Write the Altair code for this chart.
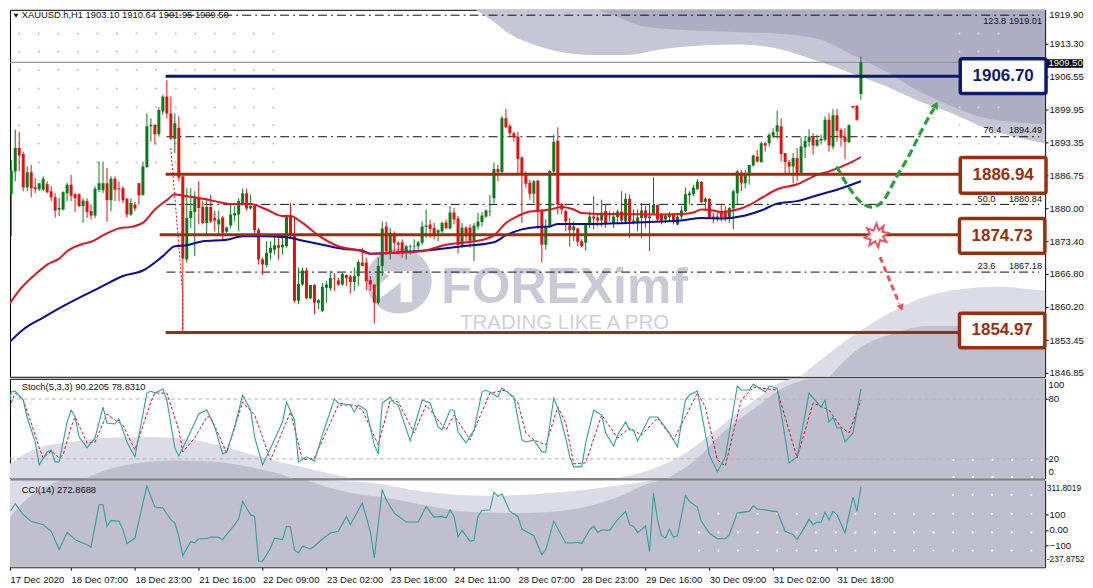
import altair as alt
import pandas as pd

direction = ("GGGRRGRRGG" "RRRGGGRRRG" "RRGGGRGRRR" "RGRRGGGRGG" "RRGRRGGGRR" "GRRGRGGGGG"
             "RGRRRGGGRG" "GRRGGRGRGG" "GGRRGRRGGR" "RRRGGRGRRR" "GGGGGGRRGG" "RGRRGRRGGG"
             "GGGRGRRRRR" "RRGRRGGGRR" "RRGRRGGRRG" "RRGGRGRRGG" "RGGRRGGRGG" "GGGGRGRRGR"
             "RGGGRGGGRG" "RGGGRRRGRG" "GGRGGGRGRR" "RGRRG")

body_hi = [1883.1,1887.7,1892.2,1892.2,1891.0,1887.3,1887.3,1884.3,1885.1,1886.0,
 1884.9,1883.5,1882.3,1880.1,1883.3,1884.8,1884.8,1882.9,1882.9,1881.6,
 1881.5,1879.5,1884.0,1885.1,1885.1,1885.1,1886.0,1886.0,1884.1,1884.1,
 1882.0,1881.1,1880.8,1885.1,1888.5,1896.6,1896.9,1896.9,1899.9,1902.6,
 1902.6,1899.2,1897.2,1896.3,1886.5,1878.1,1879.5,1882.1,1882.1,1880.3,
 1880.3,1880.3,1878.1,1877.8,1878.2,1876.2,1878.8,1879.1,1881.5,1883.1,
 1883.1,1880.5,1880.5,1875.7,1869.7,1871.1,1872.1,1872.6,1872.6,1872.7,
 1878.5,1878.5,1874.4,1864.8,1867.5,1867.5,1864.6,1864.6,1861.5,1864.2,
 1864.7,1866.0,1866.0,1865.5,1866.8,1866.6,1866.3,1866.4,1869.2,1869.1,
 1869.1,1865.6,1864.7,1868.4,1876.0,1876.4,1875.1,1875.0,1873.1,1873.2,
 1872.4,1872.4,1872.4,1873.2,1876.4,1876.6,1876.8,1876.1,1875.6,1877.1,
 1877.2,1879.2,1879.2,1878.0,1876.2,1876.2,1876.2,1876.6,1877.4,1878.6,
 1879.6,1879.4,1888.0,1888.0,1898.2,1898.2,1896.7,1895.2,1894.5,1890.3,
 1887.0,1885.2,1885.5,1885.6,1879.5,1876.1,1887.6,1893.5,1893.7,1880.9,
 1879.5,1876.6,1876.4,1876.0,1873.4,1876.9,1878.4,1878.4,1878.2,1879.2,
 1879.5,1879.1,1878.4,1879.4,1879.4,1882.0,1882.0,1877.6,1878.2,1879.6,
 1879.6,1878.4,1880.7,1880.7,1878.9,1878.6,1878.8,1878.8,1878.4,1879.6,
 1882.9,1883.1,1884.2,1885.4,1885.4,1882.0,1882.0,1878.4,1878.4,1879.5,
 1879.5,1880.1,1883.5,1887.5,1887.2,1886.8,1888.8,1890.7,1890.5,1893.2,
 1893.2,1894.9,1895.4,1896.8,1896.6,1891.2,1889.4,1890.2,1890.2,1892.5,
 1893.7,1894.5,1894.5,1893.9,1894.1,1897.9,1897.9,1898.8,1898.8,1895.9,
 1894.5,1896.8,1900.7,1900.7,1909.5]

body_lo = [1876.4,1882.9,1887.5,1890.7,1884.3,1884.3,1884.1,1883.9,1883.9,1883.8,
 1883.3,1882.3,1879.6,1879.8,1879.8,1883.1,1882.6,1882.1,1880.5,1880.5,
 1879.3,1878.6,1878.6,1883.8,1883.7,1881.7,1881.7,1883.8,1883.9,1881.7,
 1878.8,1878.8,1880.0,1882.7,1882.7,1888.4,1896.6,1895.0,1895.0,1899.6,
 1899.2,1894.1,1894.1,1886.2,1869.9,1869.7,1878.1,1879.3,1880.1,1877.1,
 1877.1,1877.4,1877.6,1876.8,1875.1,1875.3,1876.6,1878.6,1878.8,1881.1,
 1880.0,1880.0,1875.6,1869.7,1868.7,1868.6,1871.1,1871.7,1872.1,1872.2,
 1872.4,1874.4,1861.4,1861.4,1864.7,1861.9,1861.9,1861.0,1861.0,1859.3,
 1864.0,1863.9,1865.9,1864.7,1864.7,1866.0,1865.2,1865.2,1866.4,1868.4,
 1865.4,1864.7,1861.0,1861.0,1868.4,1871.4,1871.1,1873.1,1872.7,1871.4,
 1871.4,1872.3,1872.3,1872.4,1873.1,1876.3,1875.9,1874.8,1875.1,1875.4,
 1876.1,1876.0,1877.8,1872.7,1872.7,1874.4,1873.5,1873.5,1876.4,1877.3,
 1878.4,1879.3,1882.1,1887.4,1887.4,1896.4,1895.2,1894.4,1890.0,1887.0,
 1885.0,1883.0,1883.0,1879.6,1872.7,1872.7,1876.6,1887.5,1880.8,1879.8,
 1877.4,1875.6,1875.6,1873.3,1872.4,1873.1,1876.8,1878.0,1877.6,1877.6,
 1876.9,1878.9,1877.1,1878.3,1877.6,1877.4,1877.4,1877.1,1877.1,1878.1,
 1878.1,1878.1,1879.0,1877.8,1877.6,1877.8,1878.3,1877.4,1876.8,1878.4,
 1879.5,1882.7,1882.9,1883.9,1881.3,1881.3,1878.2,1878.1,1878.1,1878.2,
 1878.2,1878.1,1880.0,1883.1,1885.1,1885.1,1886.7,1888.7,1889.5,1889.4,
 1892.7,1893.2,1894.7,1895.5,1891.0,1889.4,1888.5,1888.5,1887.2,1887.2,
 1892.3,1893.5,1892.7,1892.7,1893.7,1893.9,1892.7,1892.5,1895.7,1894.3,
 1893.5,1893.4,1900.4,1897.9,1903.1]

highs = [1886.8,1889.8,1895.9,1895.5,1891.5,1888.5,1888.8,1886.2,1885.1,1886.5,
 1885.5,1884.5,1883.1,1882.1,1883.5,1885.2,1886.8,1883.1,1883.1,1882.1,
 1882.1,1880.8,1884.5,1889.5,1889.5,1888.2,1886.5,1886.5,1885.5,1884.5,
 1882.1,1882.1,1881.3,1885.1,1889.5,1899.2,1898.2,1896.9,1900.4,1902.9,
 1905.9,1902.6,1899.2,1898.6,1886.5,1884.1,1884.1,1883.5,1885.5,1881.5,
 1882.1,1882.8,1879.5,1879.6,1878.5,1876.4,1880.8,1880.5,1882.1,1884.0,
 1884.0,1882.8,1880.8,1876.1,1870.1,1873.4,1873.4,1874.4,1874.1,1874.8,
 1878.8,1881.1,1878.1,1868.1,1868.1,1868.1,1864.6,1864.7,1861.7,1865.0,
 1865.4,1867.4,1867.0,1866.0,1867.0,1866.7,1866.7,1868.1,1869.7,1872.1,
 1870.1,1866.4,1864.7,1870.1,1877.4,1877.3,1876.1,1875.4,1873.4,1873.8,
 1872.7,1872.7,1873.8,1873.5,1877.4,1879.8,1877.8,1877.1,1875.8,1877.4,
 1877.8,1880.5,1880.1,1878.5,1877.1,1876.4,1876.8,1877.1,1879.1,1879.3,
 1879.8,1882.7,1889.3,1888.8,1898.7,1900.1,1897.0,1895.5,1895.5,1890.5,
 1887.5,1885.8,1885.8,1885.8,1879.8,1877.8,1887.8,1894.9,1896.4,1881.1,
 1879.8,1878.1,1877.4,1876.1,1873.8,1877.1,1879.4,1882.5,1879.1,1881.8,
 1880.8,1879.5,1879.4,1879.8,1883.5,1883.1,1882.8,1879.8,1879.8,1881.1,
 1880.5,1881.1,1886.3,1880.8,1879.1,1878.9,1879.3,1879.1,1879.1,1880.5,
 1884.3,1883.5,1884.8,1886.0,1885.5,1882.3,1882.1,1879.1,1879.1,1880.8,
 1880.5,1880.3,1883.8,1887.8,1887.8,1887.8,1888.8,1890.9,1891.9,1893.5,
 1893.5,1895.2,1896.2,1899.7,1898.2,1891.2,1889.8,1891.2,1892.2,1894.3,
 1894.5,1896.0,1895.2,1894.9,1894.9,1898.6,1899.2,1900.1,1900.1,1896.2,
 1896.2,1897.0,1900.7,1900.9,1910.64]

lows = [1876.4,1874.4,1885.5,1887.5,1883.5,1883.5,1882.3,1883.1,1883.5,1883.5,
 1883.1,1881.5,1878.2,1878.5,1879.6,1881.5,1881.5,1879.3,1880.3,1877.1,
 1878.1,1877.8,1878.1,1883.3,1883.1,1877.3,1879.5,1881.5,1881.5,1881.1,
 1878.2,1878.5,1879.5,1880.8,1882.7,1888.2,1893.5,1892.9,1894.5,1898.9,
 1898.2,1893.9,1891.2,1885.5,1855.0,1869.1,1876.1,1870.4,1876.8,1876.8,
 1874.4,1877.1,1875.4,1874.8,1873.7,1875.1,1876.1,1877.4,1875.4,1880.8,
 1879.6,1879.8,1874.8,1868.7,1866.6,1868.1,1869.7,1870.7,1869.7,1870.7,
 1872.1,1874.1,1861.0,1860.7,1864.4,1861.7,1861.7,1858.7,1859.7,1859.2,
 1861.0,1863.4,1863.4,1864.4,1864.4,1864.4,1862.8,1863.4,1864.4,1868.4,
 1863.5,1863.4,1856.8,1860.7,1866.4,1870.7,1869.7,1871.4,1870.7,1870.1,
 1869.7,1870.7,1871.4,1871.7,1872.7,1874.1,1874.1,1873.8,1873.4,1875.1,
 1875.8,1875.8,1876.8,1870.9,1872.1,1873.4,1872.1,1869.4,1875.8,1876.4,
 1878.1,1878.4,1881.1,1885.5,1887.2,1896.2,1894.5,1893.5,1887.2,1877.1,
 1884.2,1881.8,1881.1,1875.8,1869.1,1871.7,1876.1,1887.2,1878.8,1878.8,
 1875.4,1872.3,1873.4,1872.4,1872.2,1871.5,1876.1,1875.8,1876.4,1876.4,
 1876.1,1877.4,1876.1,1876.8,1877.1,1876.8,1874.1,1876.8,1875.4,1874.1,
 1876.1,1871.4,1878.8,1877.4,1876.8,1877.1,1877.4,1876.8,1876.6,1877.8,
 1879.3,1880.8,1882.5,1883.8,1881.1,1879.5,1878.1,1877.1,1877.4,1877.4,
 1877.4,1877.1,1875.8,1880.8,1883.5,1884.1,1884.8,1888.5,1889.3,1889.2,
 1891.5,1892.5,1894.2,1894.1,1889.5,1887.2,1887.2,1885.1,1885.5,1887.2,
 1890.2,1892.5,1890.9,1892.5,1892.9,1893.5,1891.5,1891.9,1893.5,1892.5,
 1890.0,1893.2,1900.2,1897.7,1901.95]

ma_red_i = [0,3,7,10,13,15,19,21,24,28,31,34,37,40,42,44,47,52,56,61,65,69,71,74,78,83,88,91,97,104,110,114,118,122,125,128,131,134,136,139,142,144,149,155,164,169,172,174,177,179,183,186,189,193,198,203,206,209,212,214]
ma_red = [1860.1,1863.5,1866.7,1868.7,1869.9,1871.4,1872.9,1873.3,1874.6,1876.0,1876.3,1877.1,1879.8,1881.7,1882.9,1882.6,1882.3,1881.5,1880.9,1880.9,1879.8,1878.5,1878.5,1877.1,1874.6,1872.4,1871.6,1870.9,1871.1,1871.4,1872.7,1873.1,1873.5,1874.6,1877.1,1878.5,1879.4,1879.6,1879.8,1880.3,1879.8,1879.1,1878.9,1878.9,1878.8,1878.9,1879.2,1879.8,1879.6,1879.3,1879.8,1880.7,1882.1,1883.9,1884.9,1886.8,1887.5,1888.4,1889.5,1890.4]
ma_blue_i = [0,4,9,14,20,24,29,34,39,42,45,49,55,59,64,70,73,79,84,89,91,97,104,114,122,125,129,133,136,138,147,155,164,169,174,179,185,189,193,198,204,208,214]
ma_blue = [1852.6,1855.6,1858.0,1860.3,1862.8,1864.4,1866.4,1867.5,1870.4,1872.4,1872.6,1873.4,1873.7,1874.4,1874.4,1874.2,1873.7,1872.7,1871.9,1871.5,1870.9,1871.1,1871.5,1872.4,1873.2,1874.6,1875.8,1876.3,1876.4,1876.9,1876.9,1877.1,1877.4,1877.6,1878.1,1878.0,1878.6,1879.6,1881.0,1881.5,1882.9,1883.8,1885.5]

stoch_i = [0,1,2,4,5,7,8,10,11,12,13,15,16,17,18,20,22,24,25,27,28,30,32,35,36,37,39,40,42,43,45,48,50,52,54,55,57,59,61,62,64,66,69,70,72,73,75,77,79,82,83,86,87,88,90,92,93,94,96,97,98,101,104,106,108,109,111,112,113,115,117,119,120,123,124,127,129,130,132,134,135,137,138,140,141,142,144,145,147,149,150,152,153,155,156,157,158,161,163,166,168,170,171,173,176,178,180,183,184,186,187,190,191,193,196,198,201,204,205,206,207,208,209,210,212,214]
stoch_main = [67,87,88,79,61,37,14,27,29,17,17,57,69,62,42,31,41,72,56,55,60,37,22,86,88,86,90,79,31,23,39,65,69,52,25,27,52,84,69,42,14,31,57,77,59,17,22,18,44,80,76,74,67,74,69,34,25,76,82,76,74,38,79,76,52,49,69,69,47,36,49,87,89,82,91,82,39,37,39,27,27,81,71,41,22,12,12,36,69,64,46,33,44,57,49,49,38,62,62,46,32,79,84,88,24,7,22,93,89,89,95,87,93,91,16,22,86,72,79,57,62,51,51,37,46,90.2]
signal_i = [0,2,4,6,8,9,11,13,14,16,17,20,22,25,27,29,32,36,37,40,43,44,47,50,51,55,59,62,66,71,74,77,83,87,89,93,96,98,102,105,110,112,116,121,125,128,130,132,135,138,140,142,145,149,153,156,159,163,167,173,175,178,180,184,187,193,198,202,206,209,211,214]
signal = [67,86,79,56,31,21,28,21,24,52,62,36,37,65,59,54,29,77,86,86,49,27,41,62,62,26,77,64,19,67,19,21,74,74,69,34,79,77,46,74,49,64,39,86,89,76,46,39,34,72,56,15,16,64,41,51,44,61,39,86,72,19,13,79,92,89,21,76,69,52,46,78.8]

cci_i = [0,1,2,4,6,9,11,13,15,17,18,20,21,23,24,25,26,28,29,30,32,35,37,39,41,42,43,44,46,47,48,50,51,53,54,57,58,59,61,62,63,64,66,67,69,70,71,72,73,74,76,77,79,81,83,85,86,89,91,92,94,95,97,100,103,105,107,109,110,111,112,113,114,116,117,118,119,121,122,123,124,126,128,129,132,134,135,137,140,142,143,144,146,147,148,149,151,153,155,156,157,158,159,160,161,162,163,164,165,166,167,168,170,171,173,174,176,178,180,181,183,186,187,188,190,192,193,195,197,198,200,201,202,203,204,205,206,207,208,210,212,213,214]
cci = [124,128,166,97,55,34,-8,-124,-15,-61,-72,-93,-109,160,160,23,61,55,2,-86,-51,280,145,139,65,44,-40,-162,-72,-82,-55,-55,-44,-46,-61,34,69,181,97,86,-198,-198,-114,-51,-61,23,19,-128,-145,-103,-120,-103,-57,-19,-8,86,34,171,-8,-177,255,192,107,51,51,149,82,86,76,128,86,-44,-2,-72,-65,86,124,128,240,213,229,118,86,6,-36,-156,-124,55,-82,-82,-78,-86,2,23,-15,2,-2,65,118,34,23,-15,2,27,-135,234,65,-36,-51,6,-46,-36,217,181,145,55,-19,-55,-55,-29,107,118,154,133,128,118,118,-8,-29,-61,23,69,34,51,48,114,65,118,97,-19,208,118,272.87]

tick_bars = [0.68,16,32,48,64,80,96,112,128,144,160,176,192,208]
tick_labels = ["17 Dec 2020","18 Dec 07:00","18 Dec 23:00","21 Dec 16:00","22 Dec 09:00","23 Dec 02:00","23 Dec 18:00","24 Dec 11:00","28 Dec 07:00","28 Dec 23:00","29 Dec 16:00","30 Dec 09:00","31 Dec 02:00","31 Dec 18:00"]
price_ticks = [1913.30,1906.55,1899.95,1893.35,1886.75,1880.00,1873.40,1866.80,1860.20,1853.45,1846.85]

levels = [1906.70,1886.94,1874.73,1854.97]
fibs = [1919.01,1894.49,1880.84,1867.18]

XMIN, XMAX = 0.68, 260.17
FONT = "Liberation Sans"
INK = "#111111"
NAVY, BROWN = "#0c1a72", "#97300f"
UP, DOWN = "#0b7a1b", "#e21212"
TEAL = "#2f9f9f"
LIGHT, DARK = "#c6c6d6", "#adadc4"
S_LIGHT, S_DARK = "#dcdce6", "#bfbfce"

main_dom = [1846.06, 1920.1]
sto_dom = [0.33, 100.33]
cci_dom = [-235.8, 313.6]


def panel(y_dom, y_axis, x_axis=None):
    x = alt.X("i:Q", scale=alt.Scale(domain=[XMIN, XMAX], nice=False, zero=False), axis=x_axis, title=None)
    y = alt.Y("p:Q", scale=alt.Scale(domain=y_dom, nice=False, zero=False), axis=y_axis, title=None)
    return x, y


def area(xy, xs, ys, base, color):
    df = pd.DataFrame({"i": xs, "p": ys, "b": base})
    return alt.Chart(df).mark_area(color=color, interpolate="monotone", clip=True, opacity=1).encode(
        x=xy[0], y=xy[1], y2=alt.Y2("b:Q"))


def line(xy, xs, ys, color, width=1.0, dash=None, interp="linear", clip=True):
    df = pd.DataFrame({"i": xs, "p": ys})
    kw = {"strokeDash": dash} if dash else {}
    return alt.Chart(df).mark_line(color=color, strokeWidth=width, interpolate=interp, clip=clip, **kw).encode(
        x=xy[0], y=xy[1], order=alt.Order("ord:Q")).transform_window(ord="row_number()")


def hline(xy, x0, x1, p, color, width=1.0, dash=None):
    df = pd.DataFrame({"i": [x0], "i2": [x1], "p": [p]})
    kw = {"strokeDash": dash} if dash else {}
    return alt.Chart(df).mark_rule(color=color, strokeWidth=width, **kw).encode(
        x=xy[0], x2=alt.X2("i2:Q"), y=xy[1])


def text(xy, i, p, s, size=9.5, color=INK, align="left", weight="normal", baseline="middle", font=FONT):
    df = pd.DataFrame({"i": [i], "p": [p], "t": [s]})
    return alt.Chart(df).mark_text(fontSize=size, color=color, align=align, fontWeight=weight,
                                   baseline=baseline, font=font).encode(x=xy[0], y=xy[1], text="t:N")


def dots(xy, xs, ys, color, size=5):
    df = pd.DataFrame([(a, b) for a in xs for b in ys], columns=["i", "p"])
    return alt.Chart(df).mark_point(shape="circle", filled=True, color=color, size=size, opacity=1, clip=True).encode(
        x=xy[0], y=xy[1])


def box(xy, x0, x1, p0, p1, label, color):
    df = pd.DataFrame({"i": [x0], "i2": [x1], "p": [p0], "p2": [p1]})
    r = alt.Chart(df).mark_rect(fill="white", stroke=color, strokeWidth=3.5, cornerRadius=2).encode(
        x=xy[0], x2=alt.X2("i2:Q"), y=xy[1], y2=alt.Y2("p2:Q"))
    t = text(xy, (x0 + x1) / 2, (p0 + p1) / 2, label, size=17, color=color, align="center", weight="bold")
    return r + t


# ---------- main panel
main_axis = alt.Axis(values=price_ticks, format=".2f", orient="right", grid=False, domain=False, tickSize=3,
                     tickColor=INK, labelFont=FONT, labelFontSize=9.5, labelColor=INK, labelPadding=1, labelOverlap=False)
M = panel(main_dom, main_axis)
top = main_dom[1]
bot = main_dom[0]

light_top_i = [117.4,121.9,126.2,131.9,138.7,146.9,155.4,163.7,173.7,182.9,192.9,203.7,211.9,220.4,228.7,236.9,245.4,260.2]
light_top_p = [1920.1,1917.7,1915.1,1913.1,1911.6,1911.0,1911.0,1912.1,1912.9,1913.1,1912.3,1909.6,1907.2,1904.6,1901.6,1899.2,1896.2,1893.1]
dark_top_i = [148.2,152.9,158.7,167.9,178.7,192.9,203.7,211.9,220.4,228.7,236.9,245.4,260.2]
dark_top_p = [1920.1,1918.7,1916.9,1916.1,1915.7,1915.3,1914.1,1911.0,1907.6,1903.6,1900.6,1898.2,1897.0]
light_bot_i = [198.7,213.7,222,230.5,238.7,248,260.2]
light_bot_p = [1846.06,1855.3,1859.3,1862.3,1863.7,1864.2,1863.4]
dark_bot_i = [206.2,213.7,222,230.5,238.7,248,260.2]
dark_bot_p = [1846.06,1851.9,1854.7,1856.3,1856.3,1856.7,1856.3]

dot_i = [3 + 4.9 * k for k in range(14)]
dot_p = [1915.3,1911.65,1908.0,1904.2,1900.4,1896.8,1893.1,1889.3]
dot2_i = [238.7,243.5,248.5]
dot2_p = [1915.3,1911.65,1900.4,1896.8,1893.1]

logo_df = pd.DataFrame({"i": [98.2], "p": [1865.4]})
logo = alt.Chart(logo_df).mark_point(shape="circle", filled=True, size=4300, color="#c9c9d7", opacity=1).encode(x=M[0], y=M[1])
arrow_path = "M-.55,-.3 L.4,-.3 L.4,.65 L.05,.65 L.05,.05 L-.6,.55 L-.85,.3 L-.3,-.15 Z"
logo2 = alt.Chart(logo_df).mark_point(shape=arrow_path, filled=True, size=4300, color="white", opacity=1).encode(x=M[0], y=M[1])

wm1 = text(M, 139.7, 1861.0, "FOREXimf", size=50, color="#c9c9d7", align="center", weight="bold", baseline="alphabetic")
wm2 = text(M, 139.7, 1855.6, "TRADING LIKE A PRO", size=20.5, color="#cfcfdb", align="center", baseline="alphabetic")

cd = pd.DataFrame({"i": range(len(highs)), "hi": highs, "lo": lows, "top": body_hi, "bottom": body_lo,
                   "col": [UP if d == "G" else DOWN for d in direction]})
wick = alt.Chart(cd).mark_rule(strokeWidth=1, clip=True).encode(
    x=M[0], y=alt.Y("hi:Q", scale=alt.Scale(domain=main_dom, nice=False, zero=False), axis=main_axis, title=None),
    y2=alt.Y2("lo:Q"), color=alt.Color("col:N", scale=None))
body = alt.Chart(cd).mark_rule(strokeWidth=3, clip=True).encode(
    x=M[0], y=alt.Y("top:Q", scale=alt.Scale(domain=main_dom, nice=False, zero=False), axis=main_axis, title=None),
    y2=alt.Y2("bottom:Q"), color=alt.Color("col:N", scale=None))

star = alt.Chart(pd.DataFrame({"i": [217.9], "p": [1874.6]})).mark_point(
    shape="M0,-1 L.2,-.45 L.6,-.8 L.5,-.3 L1,-.2 L.55,.1 L.85,.55 L.3,.4 L.15,1 L-.1,.5 L-.6,.85 L-.5,.35 L-1,.2 L-.55,-.1 L-.8,-.6 L-.25,-.4 Z",
    filled=True, fill="white", stroke="#f0505f", strokeWidth=2, size=560, opacity=1).encode(x=M[0], y=M[1])

green_i = [207.9,210.8,213.7,216.6,219.5,222.8,226.2,229.5,232.3]
green_p = [1888.5,1884.5,1881.5,1880.3,1881.5,1886.2,1890.9,1896.2,1900.2]
red_i = [218.8,223.6]
red_p = [1870.2,1860.8]
head_g = alt.Chart(pd.DataFrame({"i": [232.8], "p": [1900.9]})).mark_point(
    shape="triangle-up", filled=True, color="#2a9d3c", size=70, angle=27, opacity=1).encode(x=M[0], y=M[1])
head_r = alt.Chart(pd.DataFrame({"i": [224.1], "p": [1860.0]})).mark_point(
    shape="triangle-down", filled=True, color="#f0505a", size=60, angle=340, opacity=1).encode(x=M[0], y=M[1])

FDASH = [9, 4, 2, 4]
main_layers = [
    area(M, light_top_i, light_top_p, top, LIGHT),
    area(M, dark_top_i, dark_top_p, top, DARK),
    area(M, light_bot_i, light_bot_p, bot, S_LIGHT),
    area(M, dark_bot_i, dark_bot_p, bot, S_DARK),
    dots(M, dot_i, dot_p, "#c4c4c4"),
    dots(M, dot2_i, dot2_p, "#d2d2da"),
    logo, logo2, wm1, wm2,
]
main_layers += [hline(M, 39.9, 258.7, v, "#111111", 1, FDASH) for v in fibs]
main_layers += [
    hline(M, XMIN, XMAX, 1909.50, "#8c9aa2", 1.2),
    line(M, [41, 44, 44], [1892.2, 1862.7, 1855.0], DOWN, 1, [2, 2]),
    wick, body,
    line(M, ma_blue_i, ma_blue, "#0a0aa0", 2, None, "monotone"),
    line(M, ma_red_i, ma_red, "#e01520", 2, None, "monotone"),
    hline(M, 39.7, 238.7, levels[0], NAVY, 3),
    hline(M, 39.7, 238.7, levels[1], BROWN, 3),
    hline(M, 38.2, 238.7, levels[2], BROWN, 3),
    hline(M, 39.7, 238.7, levels[3], BROWN, 3),
    line(M, green_i, green_p, "#2a9d3c", 3.2, [8, 4], "monotone"),
    head_g,
    line(M, red_i, red_p, "#f0505a", 3, [6, 4]),
    head_r, star,
    box(M, 238.9, 260.4, 1910.2, 1903.2, "1906.70", NAVY),
    box(M, 238.9, 260.4, 1890.3, 1883.1, "1886.94", BROWN),
    box(M, 238.7, 260.1, 1878.0, 1871.0, "1874.73", BROWN),
    box(M, 238.7, 260.1, 1858.9, 1851.9, "1854.97", BROWN),
    text(M, 3.6, 1919.0, "XAUUSD.h,H1  1903.10 1910.64 1901.95 1909.50", size=9.4),
    alt.Chart(pd.DataFrame({"i": [2.2], "p": [1918.9]})).mark_point(shape="triangle-down", filled=True, color="#111", size=22, opacity=1).encode(x=M[0], y=M[1]),
    text(M, 261.2, 1919.1, "1919.90", size=9.5),
    text(M, 250.4, 1917.9, "123.8", size=9.2, align="right"),
    text(M, 259.4, 1917.9, "1919.01", size=9.2, align="right"),
    text(M, 249.2, 1895.75, "76.4", size=9.2, align="right"),
    text(M, 259.4, 1895.75, "1894.49", size=9.2, align="right"),
    text(M, 247.7, 1881.9, "50.0", size=9.2, align="right"),
    text(M, 259.4, 1881.9, "1880.84", size=9.2, align="right"),
    text(M, 247.7, 1868.4, "23.6", size=9.2, align="right"),
    text(M, 259.4, 1868.4, "1867.18", size=9.2, align="right"),
]
tag = pd.DataFrame({"i": [260.7], "i2": [269.7], "p": [1910.14], "p2": [1908.43]})
main_layers += [
    alt.Chart(tag).mark_rect(fill="#000000").encode(x=M[0], x2=alt.X2("i2:Q"), y=M[1], y2=alt.Y2("p2:Q")),
    text(M, 261.0, 1909.3, "1909.50", size=9.5, color="white"),
]
main_chart = alt.layer(*main_layers).properties(width=1038, height=368)

# ---------- stochastic panel
sto_axis = alt.Axis(values=[80, 20], labels=False, orient="right", grid=False, domain=False, tickSize=3, tickColor=INK)
S = panel(sto_dom, sto_axis)
sl_left_i = [0.68,3.1,7.5,16.2,25,38.2,47,55.7,64.5,73.3,86.4]
sl_left_v = [15,22,30.7,37.3,41.3,41.7,39,30.7,20.7,12.3,0.33]
sd_left_i = [19.8,25,33.8,42.6,51.3,60.1,68.9,71.5]
sd_left_v = [0.67,9,16.3,18.3,17.3,12.3,4,0.33]
sl_right_i = [152.4,161.2,169.9,178.7,187.4,197.1,260.17]
sl_right_v = [0.33,9,25.7,52.3,79,100.33,100.33]
sd_right_i = [165.5,172.6,178.7,187.4,194.4,202.3,260.17]
sd_right_v = [0.33,19,44,70.7,90.7,100.33,100.33]
sto_layers = [
    area(S, sl_left_i, sl_left_v, sto_dom[0], S_LIGHT),
    area(S, sd_left_i, sd_left_v, sto_dom[0], S_DARK),
    area(S, sl_right_i, sl_right_v, sto_dom[0], S_LIGHT),
    area(S, sd_right_i, sd_right_v, sto_dom[0], S_DARK),
    dots(S, [237.2, 242.1, 247, 251.9, 256.8], [19, 1.7], "#ffffff"),
    hline(S, XMIN, XMAX, 80, "#b5b5b5", 1, [4, 3]),
    hline(S, XMIN, XMAX, 20, "#b5b5b5", 1, [4, 3]),
    line(S, signal_i, signal, "#d81020", 1, [3, 2]),
    line(S, stoch_i, stoch_main, TEAL, 1.1),
    text(S, 3.6, 92.3, "Stoch(5,3,3) 90.2205 78.8310", size=9.4),
    text(S, 261, 94.3, "100", size=9.5),
    text(S, 261, 80, "80", size=9.5),
    text(S, 261, 20, "20", size=9.5),
    text(S, 261, 6.8, "0", size=9.5),
]
sto_chart = alt.layer(*sto_layers).properties(width=1038, height=100)

# ---------- CCI panel
label_expr = "datum.value < 1 ? '17 Dec 2020' : " + str(tick_labels) + "[round(datum.value / 16)]"
x_axis = alt.Axis(values=tick_bars, labelExpr=label_expr, orient="bottom", grid=False, domain=False, tickSize=3,
                  tickColor=INK, labelFont=FONT, labelFontSize=9.5, labelColor=INK, labelAlign="left", labelPadding=4,
                  labelOverlap=False, labelBound=False, labelFlush=False)
cci_axis = alt.Axis(values=[100, 0, -100], labelExpr="datum.value == 0 ? '0.00' : datum.label", orient="right", grid=False,
                    domain=False, tickSize=3, tickColor=INK, labelFont=FONT, labelFontSize=9.5, labelColor=INK, labelPadding=1)
C = panel(cci_dom, cci_axis, x_axis)
ctop = cci_dom[1]
bg = pd.DataFrame({"i": [XMIN], "i2": [XMAX], "p": [cci_dom[0]], "p2": [ctop]})
cc_left_i = [0.68,3,7.5,13.6]
cc_left_v = [76,149,244,313.6]
cc_light_i = [75,86.4,95.2,104,117,130,134.9,143.7,152.4,161.2,163.8]
cc_light_v = [313.6,234,202,160,112,107,112,139,202,297,313.6]
cc_white_i = [79.4,91.7,104,121.5,136,148,162]
cc_white_v = [313.6,297,244,217,234,265,313.6]
cci_dot_i = [173.4 + 4.9 * k for k in range(18)]
cci_layers = [
    alt.Chart(bg).mark_rect(fill=S_DARK).encode(x=C[0], x2=alt.X2("i2:Q"), y=C[1], y2=alt.Y2("p2:Q")),
    area(C, cc_left_i, cc_left_v, ctop, S_LIGHT),
    area(C, cc_light_i, cc_light_v, ctop, S_LIGHT),
    area(C, cc_white_i, cc_white_v, ctop, "#ffffff"),
    dots(C, cci_dot_i[1:], [103], "#ffffff"),
    dots(C, cci_dot_i, [-15, -130], "#ffffff"),
    dots(C, cci_dot_i[13:], [223], "#ffffff"),
    line(C, cci_i, cci, TEAL, 1.1),
    text(C, 3.6, 254, "CCI(14) 272.8688", size=9.4),
    text(C, 260.6, 265, "311.8019", size=8.4),
    text(C, 260.6, -183, "-237.8752", size=8.4),
]
cci_chart = alt.layer(*cci_layers).properties(width=1038, height=87)

chart = alt.vconcat(main_chart, sto_chart, cci_chart, spacing=2, bounds="flush", padding=0).configure_view(
    stroke="#000000", strokeWidth=1).properties(background="white")

chart.save("out.html", embed_options={"renderer": "svg", "actions": False})
